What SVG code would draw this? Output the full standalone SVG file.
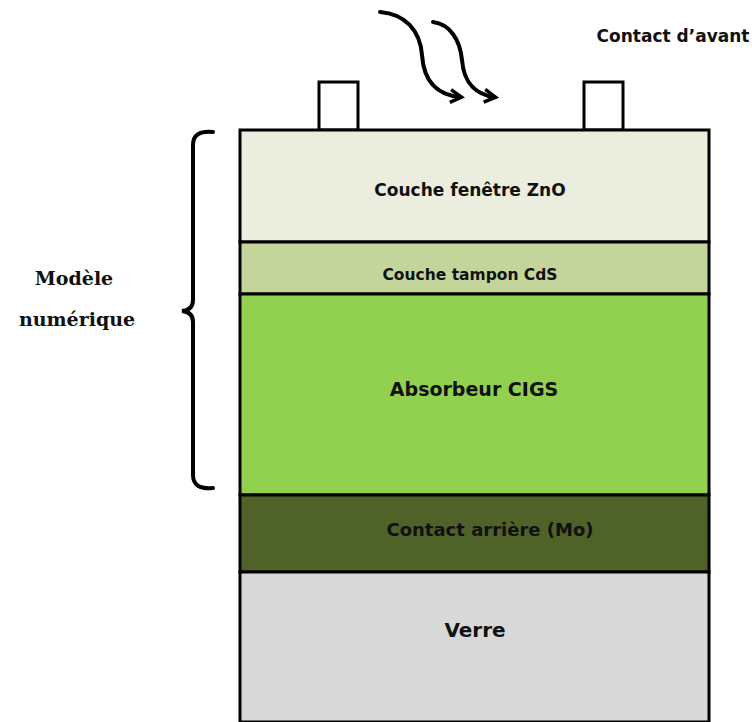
<svg xmlns="http://www.w3.org/2000/svg" width="752" height="722" viewBox="0 0 752 722">
<style>
.layer{stroke:#000;stroke-width:3}
.lbl{font-family:"DejaVu Sans",sans-serif;font-weight:bold;text-anchor:middle;fill:#111}
.ser{font-family:"DejaVu Serif","Liberation Serif",serif;font-weight:bold;text-anchor:middle;fill:#111;font-size:19px}
.ln{fill:none;stroke:#000;stroke-width:4;stroke-linecap:round}
</style>
<defs>
<marker id="ah" viewBox="0 0 10 10" refX="7" refY="5" markerWidth="4" markerHeight="4" orient="auto" markerUnits="strokeWidth">
<path d="M1,1 L8,5 L1,9" fill="none" stroke="#000" stroke-width="2.2"/>
</marker>
</defs>
<rect width="752" height="722" fill="#fff"/>
<g id="contact-left"><rect class="layer" x="319" y="82" width="39" height="48" fill="#fff"/></g>
<g id="contact-right"><rect class="layer" x="584" y="82" width="39" height="48" fill="#fff"/></g>
<g id="zno"><rect class="layer" x="240" y="130" width="469" height="112" fill="#EBEDDF"/>
<text class="lbl" x="470" y="196" font-size="17">Couche fenêtre ZnO</text></g>
<g id="cds"><rect class="layer" x="240" y="242" width="469" height="52" fill="#C3D59B"/>
<text class="lbl" x="470" y="280" font-size="15.5">Couche tampon CdS</text></g>
<g id="cigs"><rect class="layer" x="240" y="294" width="469" height="201" fill="#92D050"/>
<text class="lbl" x="474" y="396" font-size="19">Absorbeur CIGS</text></g>
<g id="mo"><rect class="layer" x="240" y="495" width="469" height="77" fill="#4F6228"/>
<text class="lbl" x="490" y="536" font-size="18">Contact arrière (Mo)</text></g>
<g id="verre"><rect class="layer" x="240" y="572" width="469" height="150" fill="#D8D8D8"/>
<text class="lbl" x="475" y="637" font-size="20">Verre</text></g>
<g id="label-contact"><text class="lbl" x="673" y="42" font-size="17">Contact d’avant</text></g>
<g id="modele"><text class="ser" x="74" y="285">Modèle</text><text class="ser" x="77" y="326">numérique</text></g>
<g id="connectors">
<path class="ln" d="M213,132 Q193,130 193,145 L193,300 Q193,310 182,311 Q193,312 193,322 L193,475 Q193,490 213,488"/>
<path class="ln" d="M380,12 C405,14 420,30 422,55 C424,85 440,95 460,97" marker-end="url(#ah)"/>
<path class="ln" d="M433,22 C450,24 460,40 462,60 C464,85 478,95 494,97" marker-end="url(#ah)"/>
</g>
</svg>
